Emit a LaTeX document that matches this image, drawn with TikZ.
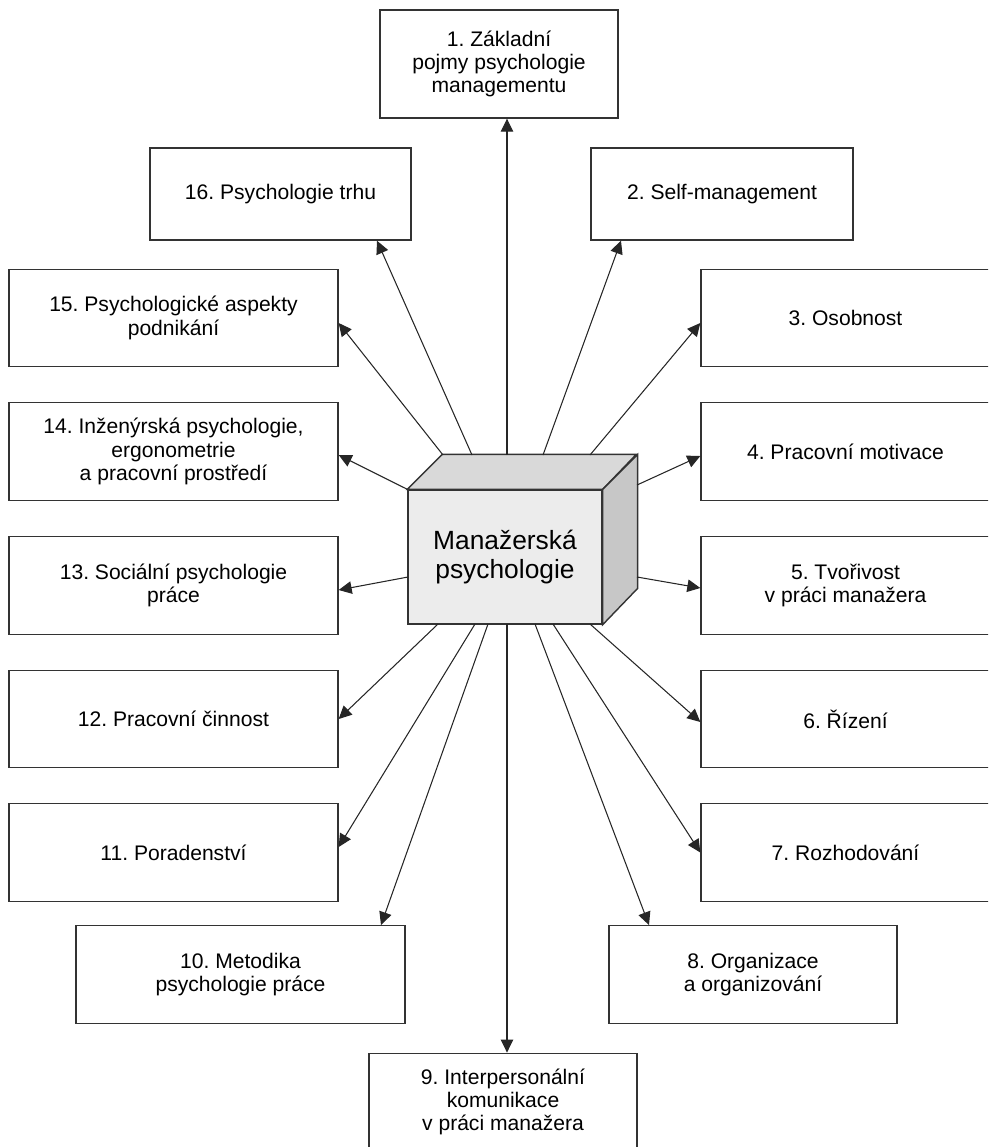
\documentclass[tikz,border=0pt]{standalone}
\usepackage{fontspec}
\setmainfont{Liberation Sans}
\usetikzlibrary{arrows.meta,calc}
\frenchspacing

\definecolor{frontgray}{gray}{0.925}
\definecolor{topgray}{gray}{0.85}
\definecolor{sidegray}{gray}{0.78}
\definecolor{edgegray}{gray}{0.2}

\begin{document}
\begin{tikzpicture}[x=0.02cm,y=-0.02cm,
  topic/.style={draw=edgegray,line width=0.8pt,align=center,inner sep=0pt,
    minimum height=1.95cm,font=\fontsize{12}{13.2}\selectfont},
  arr/.style={-{Triangle[length=0.26cm,width=0.25cm]},line width=0.6pt,draw=black!85}]
\path[use as bounding box] (0,0) rectangle (988,1147);
\clip (0,0) rectangle (988,1147);
% cube in the middle
\node [draw=edgegray,fill=frontgray,line width=0.8pt,minimum width=3.88cm,minimum height=2.68cm,
  inner sep=0pt,align=center,font=\fontsize{15}{16.5}\selectfont] (mp) at (505,557) {Manažerská\\psychologie};
\filldraw [draw=edgegray,fill=topgray,line width=0.8pt] (mp.north west)--++(35,-35)--++(194,0)--(mp.north east)--cycle;
\filldraw [draw=edgegray,fill=sidegray,line width=0.8pt] (mp.north east)--++(35,-35)--++(0,134)--(mp.south east)--cycle;
% boxes
\node [topic,minimum width=4.76cm,minimum height=2.16cm] (b1) at (499,64) {1. Základní\\pojmy psychologie\\managementu};
\node [topic,minimum width=5.24cm,minimum height=1.84cm] (b2) at (722,194) {2. Self-management};
\node [topic,minimum width=5.78cm] (b3) at (845.5,318) {3. Osobnost};
\node [topic,minimum width=5.78cm] (b4) at (845.5,451.5) {4. Pracovní motivace};
\node [topic,minimum width=5.78cm] (b5) at (845.5,585.5) {5. Tvořivost\\v práci manažera};
\node [topic,minimum width=5.78cm] (b6) at (845.5,719) {6. Řízení};
\node [topic,minimum width=5.78cm] (b7) at (845.5,852.5) {7. Rozhodování};
\node [topic,minimum width=5.76cm] (b8) at (753,974.5) {8. Organizace\\a organizování};
\node [topic,minimum width=5.36cm] (b9) at (503,1102) {9. Interpersonální\\komunikace\\v práci manažera};
\node [topic,minimum width=6.58cm] (b10) at (240.5,974.5) {10. Metodika\\psychologie práce};
\node [topic,minimum width=6.58cm] (b11) at (173.5,852.5) {11. Poradenství};
\node [topic,minimum width=6.58cm] (b12) at (173.5,719) {12. Pracovní činnost};
\node [topic,minimum width=6.58cm] (b13) at (173.5,585.5) {13. Sociální psychologie\\práce};
\node [topic,minimum width=6.58cm] (b14) at (173.5,451.5) {14. Inženýrská psychologie,\\ergonometrie\\a pracovní prostředí};
\node [topic,minimum width=6.58cm] (b15) at (173.5,318) {15. Psychologické aspekty\\podnikání};
\node [topic,minimum width=5.22cm,minimum height=1.84cm] (b16) at (280.5,194) {16. Psychologie trhu};
% start points on the cube
\coordinate (s1) at (507,455);
\coordinate (s2) at (543,455);
\coordinate (s3) at (590,455);
\coordinate (s4) at (637,485);
\coordinate (s5) at (637,577);
\coordinate (s6) at (590,624);
\coordinate (s7) at (553,624);
\coordinate (s8) at (535,624);
\coordinate (s9) at (507,624);
\coordinate (s10) at (488,624);
\coordinate (s11) at (475,624);
\coordinate (s12) at (438,624);
\coordinate (s13) at (408,577);
\coordinate (s15) at (443,455);
\coordinate (s16) at (472,455);
% arrows
\draw [arr] (s1)--(s1 |- b1.south);
\draw [arr] (s2)--($(b2.south)+(-101,0)$);
\draw [arr] (s3)--($(b3.west)+(0,5)$);
\draw [arr] (s4)--($(b4.west)+(0,4.5)$);
\draw [arr] (s5)--($(b5.west)+(0,2.5)$);
\draw [arr] (s6)--($(b6.west)+(0,3)$);
\draw [arr] (s7)--(b7.west);
\draw [arr] (s8)--($(b8.north)+(-104,0)$);
\draw [arr] (s9)--(s9 |- b9.north);
\draw [arr] (s10)--($(b10.north)+(140.5,0)$);
\draw [arr] (s11)--($(b11.east)+(0,-5.5)$);
\draw [arr] (s12)--(b12.east);
\draw [arr] (s13)--($(b13.east)+(0,4.5)$);
\draw [arr] (mp.north west)--($(b14.east)+(0,3.5)$);
\draw [arr] (s15)--($(b15.east)+(0,5)$);
\draw [arr] (s16)--($(b16.south)+(96.5,0)$);
\end{tikzpicture}
\end{document}
